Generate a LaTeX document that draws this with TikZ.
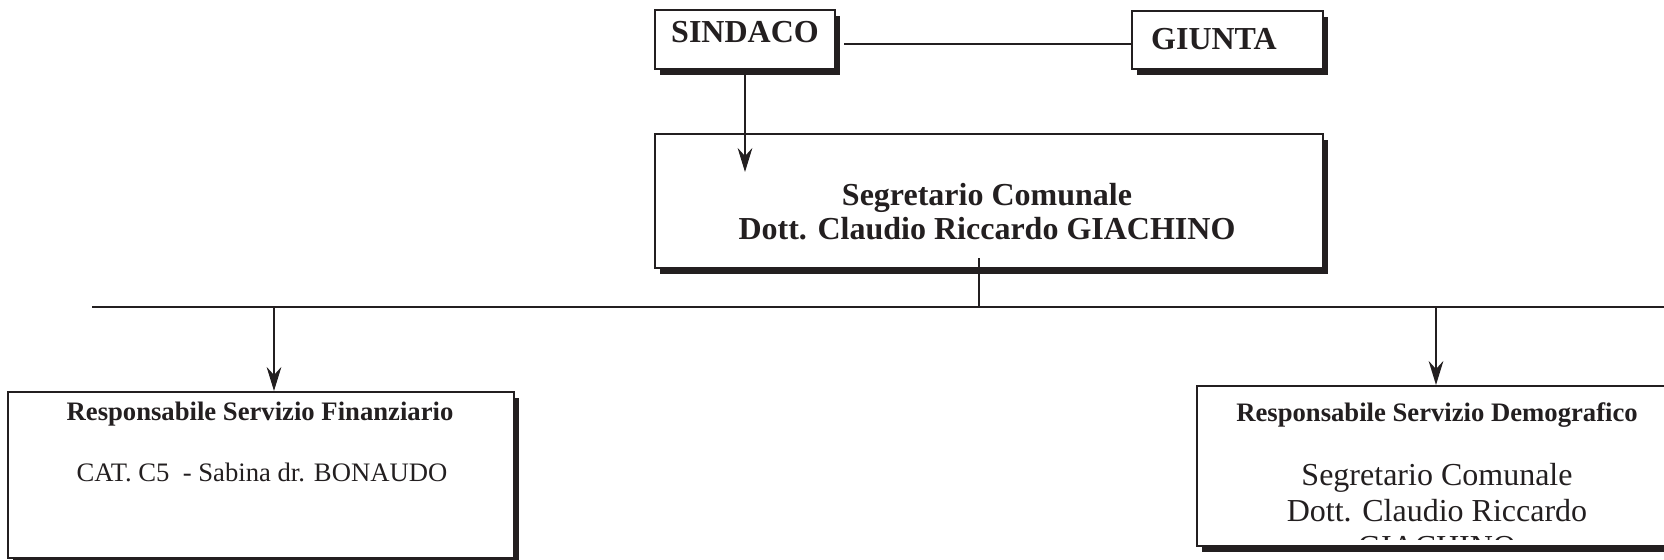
\documentclass[tikz,border=0pt]{standalone}
\usepackage{fontspec}
\setmainfont{Liberation Serif}
\usetikzlibrary{arrows.meta,shadows}

\definecolor{ink}{RGB}{35,31,32}

\tikzset{every picture/.style={line width=0.75pt}}
\tikzset{
  orgbox/.style={draw=ink, line width=1.5pt, fill=white, inner sep=0pt, anchor=north west,
    drop shadow={shadow xshift=4pt, shadow yshift=-4.2pt, fill=ink, opacity=1}},
  boxtext/.style={anchor=base, inner sep=0.75pt, text=ink},
  link/.style={draw=ink, line width=1.75pt},
  arrowlink/.style={link, -{Stealth[length=18pt,width=11pt,inset=6pt]}},
}

\begin{document}
\begin{tikzpicture}[x=0.75pt,y=0.75pt,yscale=-1,xscale=1]
\useasboundingbox (0,0) rectangle (1664,560);

%Boxes
\node [orgbox, minimum width=135pt, minimum height=44.25pt] (sindaco) at (654,9) {};
\node [orgbox, minimum width=143.25pt, minimum height=43.5pt] (giunta) at (1131,10) {};
\node [orgbox, minimum width=501pt, minimum height=100.5pt] (segretario) at (654,133) {};
\node [orgbox, minimum width=379.5pt, minimum height=124.5pt] (finanziario) at (7,391) {};
\node [orgbox, minimum width=366pt, minimum height=120pt] (demografico) at (1196,385) {};

% Text Node
\node [boxtext, font=\bfseries\fontsize{24}{28}\selectfont] (tsindaco) at (745,43) {SINDACO};
\node [boxtext, font=\bfseries\fontsize{24}{28}\selectfont] (tgiunta) at (1214,50) {GIUNTA};
\node [boxtext, font=\bfseries\fontsize{24}{28}\selectfont] (tsegr1) at (987,205) {Segretario Comunale};
\node [boxtext, font=\bfseries\fontsize{24}{28}\selectfont] (tsegr2) at (987,239) {Dott. Claudio Riccardo GIACHINO};
\node [boxtext, font=\bfseries\fontsize{20}{24}\selectfont] (tfin1) at (260,420) {Responsabile Servizio Finanziario};
\node [boxtext, font=\fontsize{20}{24}\selectfont] (tfin2) at (262,481) {CAT. C5\ \ - Sabina dr. BONAUDO};
\node [boxtext, font=\bfseries\fontsize{20}{24}\selectfont] (tdem1) at (1437,421) {Responsabile Servizio Demografico};
\node [boxtext, font=\fontsize{24}{28}\selectfont] (tdem2) at (1437,485) {Segretario Comunale};
\node [boxtext, font=\fontsize{24}{28}\selectfont] (tdem3) at (1437,521) {Dott. Claudio Riccardo};
\begin{scope}
\clip (1196,380) rectangle (1664,539);
\node [boxtext, font=\fontsize{24}{28}\selectfont] (tdem4) at (1437,557) {GIACHINO};
\end{scope}

%Connectors
\coordinate (segrtip) at (745,172);
\coordinate (segrfoot) at (979,258);
\coordinate (busL) at (92,307);
\coordinate (busR) at (1664,307);
\coordinate (finin) at (274,391);
\coordinate (demin) at (1436,385);

\draw [link, line width=1.5pt] ([xshift=6pt,yshift=3.4pt]sindaco.east) -- ([yshift=3.4pt]sindaco.east -| giunta.west);
\draw [arrowlink] (sindaco.south) -- (sindaco.south |- segrtip);
\draw [link] (segrfoot) -- (segrfoot |- busL);
\draw [link, line width=2pt] (busL) -- (busR);
\draw [arrowlink] (finin |- busL) -- (finin);
\draw [arrowlink] (demin |- busL) -- (demin);

\end{tikzpicture}
\end{document}
